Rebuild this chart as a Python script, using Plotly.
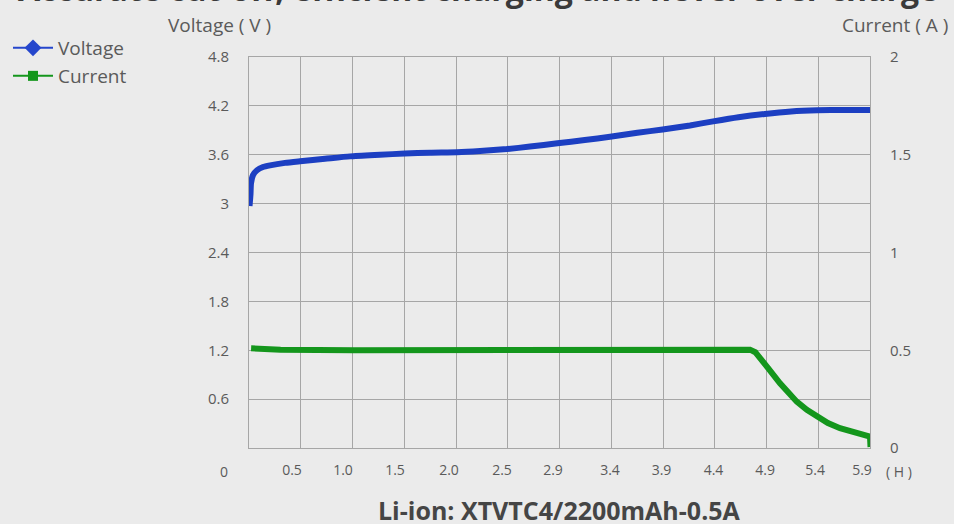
import plotly.graph_objects as go

# ---------------- data ----------------
volt_hours = [0.005, 0.014, 0.019, 0.038, 0.076, 0.133, 0.2, 0.342, 0.485, 0.722, 0.96,
              1.245, 1.48, 1.72, 1.976, 2.195, 2.45, 2.67, 2.93, 3.19, 3.43, 3.69,
              3.93, 4.19, 4.41, 4.65, 4.9, 5.15, 5.4, 5.65, 5.9]
volt_values = [2.97, 3.11, 3.25, 3.35, 3.41, 3.45, 3.47, 3.50, 3.52, 3.55, 3.58,
               3.60, 3.615, 3.625, 3.63, 3.645, 3.67, 3.70, 3.74, 3.78, 3.82, 3.87,
               3.91, 3.96, 4.01, 4.06, 4.10, 4.13, 4.145, 4.15, 4.15]

curr_hours = [0.02, 0.3, 1.0, 2.0, 3.0, 4.0, 4.6, 4.76, 4.81, 4.86, 4.93, 5.045, 5.12,
              5.204, 5.30, 5.394, 5.5, 5.615, 5.71, 5.805, 5.9, 5.905]
curr_values = [0.51, 0.503, 0.50, 0.50, 0.50, 0.502, 0.503, 0.503, 0.49, 0.46, 0.41, 0.331, 0.283,
               0.237, 0.195, 0.160, 0.128, 0.101, 0.084, 0.070, 0.058, 0.005]

x_tick_labels = ["0.5", "1.0", "1.5", "2.0", "2.5", "2.9", "3.4", "3.9", "4.4", "4.9", "5.4", "5.9"]
left_tick_vals = [0, 0.6, 1.2, 1.8, 2.4, 3.0, 3.6, 4.2, 4.8]
left_tick_text = ["", "0.6", "1.2", "1.8", "2.4", "3", "3.6", "4.2", "4.8"]
right_tick_vals = [0, 0.5, 1, 1.5, 2]
right_tick_text = ["0", "0.5", "1", "1.5", "2"]

# ---------------- layout helpers ----------------
X_MAX = 5.9
x_label_pos = [0.4085, 0.893, 1.387, 1.900, 2.404, 2.888, 3.430, 3.919, 4.413, 4.903, 5.378, 5.824]

BG = "#ebebeb"
GRID = "#a6a6a6"
BLUE = "#1c3fc2"
GREEN = "#14961c"
TXT = "#5a5a5a"
FONT = "Open Sans"

fig = go.Figure()

fig.add_trace(go.Scatter(x=volt_hours, y=volt_values, mode="lines",
                         line=dict(color=BLUE, width=6, shape="spline", smoothing=0.6),
                         showlegend=False, cliponaxis=False, xaxis="x", yaxis="y"))
fig.add_trace(go.Scatter(x=curr_hours, y=curr_values, mode="lines",
                         line=dict(color=GREEN, width=6),
                         showlegend=False, cliponaxis=False, xaxis="x", yaxis="y2"))

# legend-only entries
fig.add_trace(go.Scatter(x=[None], y=[None], mode="lines+markers", name="Voltage",
                         line=dict(color="#2546cc", width=2),
                         marker=dict(symbol="diamond", size=13, color="#2546cc"),
                         legend="legend"))
fig.add_trace(go.Scatter(x=[None], y=[None], mode="lines+markers", name="Current",
                         line=dict(color=GREEN, width=2),
                         marker=dict(symbol="square", size=10, color=GREEN),
                         legend="legend2"))

# invisible trace to activate label axis
fig.add_trace(go.Scatter(x=[None], y=[None], xaxis="x2", yaxis="y", showlegend=False))

W, H = 954, 524
L, R, T, B = 249, 84, 57, 76
PW, PH = W - L - R, H - T - B


def px_to_paper_x(px):
    return (px - L) / PW


def px_to_paper_y(py):
    return (H - B - py) / PH


fig.update_layout(
    width=W, height=H,
    margin=dict(l=L, r=R, t=T, b=B, pad=0, autoexpand=False),
    paper_bgcolor=BG, plot_bgcolor=BG,
    font=dict(family=FONT, color=TXT, size=14),
    xaxis=dict(range=[0, X_MAX], tickmode="linear", tick0=0, dtick=X_MAX / 12,
               showgrid=True, gridcolor=GRID, gridwidth=1, showticklabels=False,
               showline=True, linecolor=GRID, linewidth=1, mirror=True,
               zeroline=False, ticks=""),
    xaxis2=dict(range=[0, X_MAX], overlaying="x", side="bottom",
                tickvals=x_label_pos, ticktext=x_tick_labels,
                showgrid=False, zeroline=False, showline=False, ticks="",
                ticklabelstandoff=12, tickfont=dict(size=14, color=TXT)),
    yaxis=dict(range=[0, 4.8], tickvals=left_tick_vals, ticktext=left_tick_text,
               showgrid=True, gridcolor=GRID, gridwidth=1,
               showline=True, linecolor=GRID, linewidth=1, mirror=True,
               zeroline=False, ticks="", ticklabelstandoff=16,
               tickfont=dict(size=15, color=TXT)),
    yaxis2=dict(range=[0, 2], overlaying="y", side="right",
                tickvals=right_tick_vals, ticktext=right_tick_text,
                showgrid=False, zeroline=False, showline=False, ticks="",
                ticklabelstandoff=19, tickfont=dict(size=15, color=TXT)),
    legend=dict(xref="container", yref="container", x=8 / W, y=1 - 48 / H,
                xanchor="left", yanchor="middle",
                bgcolor="rgba(0,0,0,0)", font=dict(size=19, color=TXT),
                itemwidth=40, tracegroupgap=0),
    legend2=dict(xref="container", yref="container", x=8 / W, y=1 - 76 / H,
                 xanchor="left", yanchor="middle",
                 bgcolor="rgba(0,0,0,0)", font=dict(size=19, color=TXT),
                 itemwidth=40, tracegroupgap=0),
)

annotations = [
    dict(text="Voltage ( V )", x=px_to_paper_x(219), y=px_to_paper_y(25),
         font=dict(size=19, color=TXT)),
    dict(text="Current ( A )", x=px_to_paper_x(895), y=px_to_paper_y(25),
         font=dict(size=19, color=TXT)),
    dict(text="0", x=px_to_paper_x(224), y=px_to_paper_y(471),
         font=dict(size=14, color=TXT)),
    dict(text="( H )", x=px_to_paper_x(899), y=px_to_paper_y(471),
         font=dict(size=14, color=TXT)),
    dict(text="<b>Li-ion: XTVTC4/2200mAh-0.5A</b>", x=px_to_paper_x(559), y=px_to_paper_y(510),
         font=dict(size=25, color="#454545")),
    dict(text="<b>Accurate cut-off, efficient charging and never over charge</b>",
         x=px_to_paper_x(478), y=px_to_paper_y(-11),
         font=dict(size=32, color="#3a3a3a")),
]
for a in annotations:
    a.update(xref="paper", yref="paper", showarrow=False, xanchor="center", yanchor="middle")
fig.update_layout(annotations=annotations)

fig.write_html("out.html", config={"displayModeBar": False},
               post_script="document.body.style.margin='0';")
